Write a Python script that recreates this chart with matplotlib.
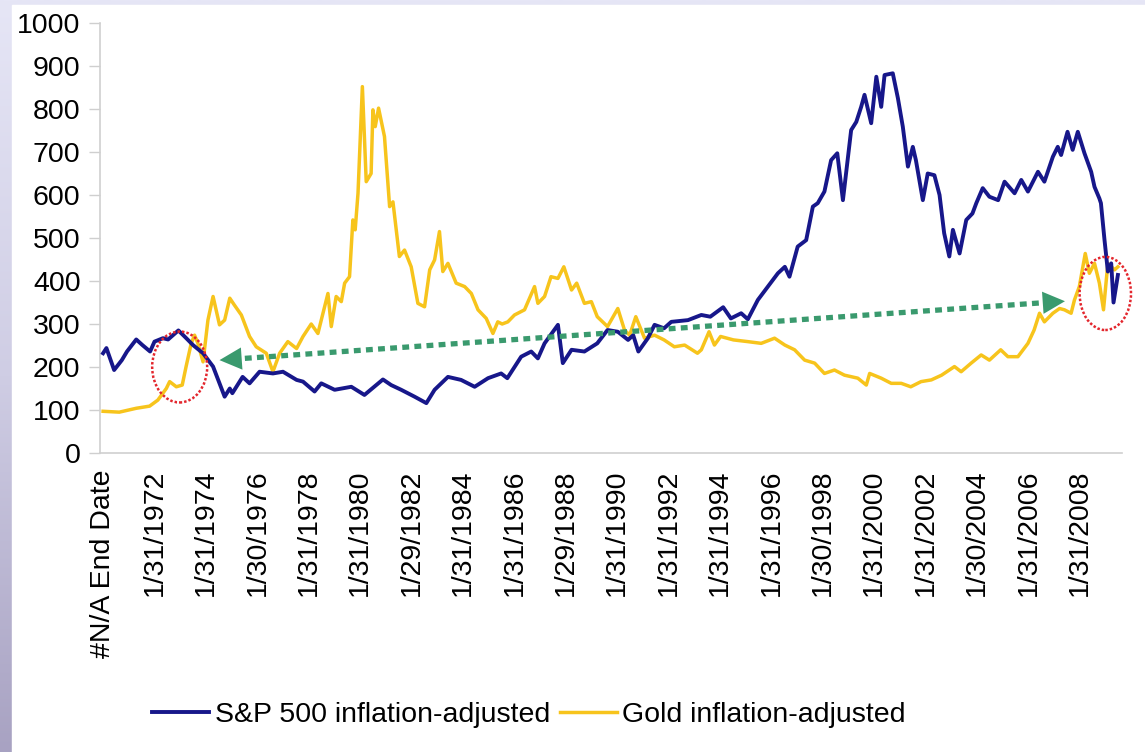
import numpy as np
import matplotlib
matplotlib.use("Agg")
import matplotlib.pyplot as plt
from matplotlib.patches import Ellipse, Rectangle

plt.rcParams['font.family'] = ['Liberation Sans', 'DejaVu Sans']

# S&P 500 inflation-adjusted (decimal year, value)
sp_years = [1970.07, 1970.2, 1970.5, 1970.8, 1971.0, 1971.36, 1971.6, 1971.9, 1972.07, 1972.4,
            1972.6, 1973.0, 1973.24, 1973.57, 1973.96, 1974.35, 1974.8, 1975.0, 1975.1, 1975.5,
            1975.77, 1976.16, 1976.68, 1977.07, 1977.6, 1977.85, 1978.3, 1978.56, 1979.08, 1979.73,
            1980.24, 1980.96, 1981.28, 1981.67, 1982.19, 1982.65, 1982.97, 1983.49, 1984.0, 1984.53,
            1985.05, 1985.56, 1985.8, 1986.34, 1986.73, 1986.99, 1987.25, 1987.77, 1987.96, 1988.3,
            1988.8, 1989.3, 1989.7, 1990.1, 1990.5, 1990.7, 1990.9, 1991.27, 1991.53, 1991.9,
            1992.18, 1992.83, 1993.35, 1993.7, 1994.2, 1994.5, 1994.9, 1995.16, 1995.55, 1995.94,
            1996.33, 1996.6, 1996.78, 1997.1, 1997.43, 1997.69, 1997.88, 1998.14, 1998.4, 1998.64,
            1998.86, 1999.18, 1999.38, 1999.57, 1999.7, 1999.96, 2000.16, 2000.35, 2000.48, 2000.8,
            2001.0, 2001.19, 2001.39, 2001.58, 2001.7, 2001.97, 2002.16, 2002.42, 2002.62, 2002.8,
            2003.0, 2003.14, 2003.4, 2003.66, 2003.9, 2004.05, 2004.3, 2004.56, 2004.9, 2005.15,
            2005.54, 2005.8, 2006.06, 2006.45, 2006.7, 2007.03, 2007.22, 2007.35, 2007.6, 2007.8,
            2008.0, 2008.26, 2008.52, 2008.65, 2008.84, 2008.9, 2009.04, 2009.17, 2009.3, 2009.39,
            2009.56]
sp_values = [232, 244, 193, 216, 236, 264, 251, 236, 259, 267,
             264, 285, 271, 251, 232, 201, 131, 150, 139, 177,
             162, 189, 185, 189, 170, 166, 143, 162, 147, 154,
             135, 171, 158, 147, 131, 116, 147, 177, 170, 154,
             174, 185, 174, 224, 236, 220, 255, 298, 209, 240,
             236, 255, 286, 282, 263, 274, 236, 267, 298, 290,
             305, 309, 321, 317, 339, 313, 325, 311, 356, 387,
             418, 433, 410, 480, 495, 573, 581, 608, 681, 697,
             588, 751, 770, 805, 833, 767, 875, 805, 879, 883,
             825, 759, 666, 712, 681, 588, 650, 646, 600, 511,
             457, 519, 464, 542, 557, 581, 616, 596, 588, 631,
             604, 635, 608, 654, 631, 689, 712, 693, 747, 705,
             747, 697, 654, 619, 592, 581, 495, 422, 441, 350,
             414]

# Gold inflation-adjusted
gold_years = [1970.07, 1970.7, 1971.36, 1971.88, 1972.2, 1972.53, 1972.66, 1972.92, 1973.15, 1973.3,
              1973.5, 1973.63, 1973.76, 1973.96, 1974.15, 1974.35, 1974.6, 1974.8, 1975.0, 1975.18,
              1975.45, 1975.77, 1976.03, 1976.42, 1976.68, 1976.94, 1977.26, 1977.6, 1977.85, 1978.17,
              1978.43, 1978.82, 1978.95, 1979.14, 1979.34, 1979.47, 1979.66, 1979.79, 1979.88, 1979.99,
              1980.16, 1980.31, 1980.5, 1980.57, 1980.66, 1980.79, 1981.02, 1981.22, 1981.35, 1981.6,
              1981.8, 1982.06, 1982.32, 1982.58, 1982.78, 1982.97, 1983.16, 1983.29, 1983.49, 1983.81,
              1984.14, 1984.4, 1984.66, 1984.98, 1985.24, 1985.43, 1985.6, 1985.82, 1986.08, 1986.47,
              1986.86, 1986.99, 1987.25, 1987.5, 1987.77, 1988.0, 1988.3, 1988.5, 1988.8, 1989.07,
              1989.3, 1989.7, 1990.1, 1990.36, 1990.56, 1990.8, 1991.14, 1991.53, 1991.9, 1992.3,
              1992.7, 1993.2, 1993.35, 1993.65, 1993.86, 1994.1, 1994.6, 1995.16, 1995.68, 1996.2,
              1996.6, 1996.98, 1997.37, 1997.76, 1998.14, 1998.53, 1998.92, 1999.44, 1999.77, 1999.9,
              2000.35, 2000.74, 2001.13, 2001.5, 2001.9, 2002.3, 2002.7, 2003.2, 2003.46, 2003.85,
              2004.24, 2004.56, 2005.0, 2005.28, 2005.67, 2006.06, 2006.3, 2006.51, 2006.7, 2007.03,
              2007.29, 2007.48, 2007.74, 2007.87, 2008.06, 2008.29, 2008.45, 2008.65, 2008.84, 2009.0,
              2009.17, 2009.43, 2009.56]
gold_values = [97, 95, 104, 109, 123, 150, 166, 154, 158, 201,
               255, 274, 255, 212, 309, 364, 298, 309, 360, 344,
               321, 271, 247, 232, 189, 232, 259, 243, 271, 300,
               278, 371, 294, 364, 352, 395, 410, 542, 519, 604,
               852, 631, 650, 798, 759, 802, 736, 573, 584, 457,
               472, 433, 348, 340, 426, 449, 515, 422, 441, 395,
               387, 371, 333, 313, 278, 305, 300, 305, 321, 333,
               387, 348, 364, 410, 406, 433, 379, 395, 348, 352,
               317, 294, 336, 286, 274, 317, 267, 274, 263, 247,
               251, 232, 240, 282, 251, 271, 263, 259, 255, 267,
               251, 240, 216, 209, 185, 193, 181, 174, 158, 185,
               174, 162, 162, 154, 166, 170, 181, 201, 189, 209,
               228, 216, 240, 224, 224, 255, 286, 325, 305, 325,
               336, 333, 325, 356, 387, 464, 418, 441, 395, 333,
               441, 426, 433]

tick_pos = [1970.08 + 2 * i for i in range(20)]
tick_labels = ['#N/A End Date', '1/31/1972', '1/31/1974', '1/30/1976', '1/31/1978', '1/31/1980',
               '1/29/1982', '1/31/1984', '1/31/1986', '1/29/1988', '1/31/1990', '1/31/1992',
               '1/31/1994', '1/31/1996', '1/30/1998', '1/31/2000', '1/31/2002', '1/30/2004',
               '1/31/2006', '1/31/2008']

# annotations: circled crossover points and the trend arrow
circles = [(1973.05, 200, 2.14, 165), (2009.07, 371, 2.0, 170)]
arrow_left = (1974.6, 216)
arrow_right = (2007.5, 353)

BLUE = '#17178a'
GOLD = '#f7c41c'
GREEN = '#3a9a6e'
RED = '#e3262d'
GRID = '#cfcfcf'

W, H = 1145, 752
fig = plt.figure(figsize=(W / 100, H / 100), dpi=100)

# lavender slide background with white panel
bg = fig.add_axes([0, 0, 1, 1], zorder=-10)
grad = np.linspace(0, 1, 256).reshape(-1, 1)
bg.imshow(grad, aspect='auto', extent=[0, 1, 0, 1], origin='upper',
          cmap=matplotlib.colors.LinearSegmentedColormap.from_list('lav', ['#e6e6f6', '#cfcde4', '#a8a2c2']))
bg.add_patch(Rectangle((12 / W, 0), 1, 1 - 5 / H, color='white'))
bg.set_xlim(0, 1)
bg.set_ylim(0, 1)
bg.axis('off')

ax = fig.add_axes([100 / W, 1 - 453 / H, 1022 / W, 430 / H])
ax.set_facecolor('none')

ax.plot(sp_years, sp_values, color=BLUE, lw=2.8, label='S&P 500 inflation-adjusted', zorder=3)
ax.plot(gold_years, gold_values, color=GOLD, lw=2.5, label='Gold inflation-adjusted', zorder=2)

for cx, cy, w, h in circles:
    ax.add_patch(Ellipse((cx, cy), w, h, fill=False, edgecolor=RED, lw=1.8,
                         linestyle=(0, (1, 0.8)), zorder=4, clip_on=False))

# dotted double-headed arrow
dx = arrow_right[0] - arrow_left[0]
dy = arrow_right[1] - arrow_left[1]
f = 0.03
p1 = (arrow_left[0] + dx * f, arrow_left[1] + dy * f)
p2 = (arrow_right[0] - dx * f, arrow_right[1] - dy * f)
ax.plot([p1[0], p2[0]], [p1[1], p2[1]], color=GREEN, lw=3.8,
        linestyle=(0, (1.3, 1.0)), dash_capstyle='butt', zorder=5)
for tip, base in [(arrow_left, p1), (arrow_right, p2)]:
    ax.annotate('', xy=tip, xytext=base,
                arrowprops=dict(arrowstyle='-|>,head_length=1.0,head_width=0.5',
                                color=GREEN, lw=0, mutation_scale=16, shrinkA=0, shrinkB=0),
                zorder=5)

ax.set_xlim(1969.95, 2009.72)
ax.set_ylim(0, 1000)
ax.set_yticks(range(0, 1001, 100))
ax.set_xticks(tick_pos)
ax.set_xticklabels(tick_labels, rotation=90, va='top', ha='center')
ax.tick_params(axis='y', length=8, width=1, color=GRID, labelsize=20.5, pad=6)
ax.tick_params(axis='x', length=0, labelsize=20.5, pad=12)
for s in ['top', 'right']:
    ax.spines[s].set_visible(False)
for s in ['left', 'bottom']:
    ax.spines[s].set_color(GRID)
    ax.spines[s].set_linewidth(1.2)

fig.legend(loc='center', bbox_to_anchor=(0.462, 1 - 715 / H), ncol=2, frameon=False,
           fontsize=20.5, handlelength=2.0, handletextpad=0.2, columnspacing=0.35)

fig.savefig('out.png', dpi=100)
